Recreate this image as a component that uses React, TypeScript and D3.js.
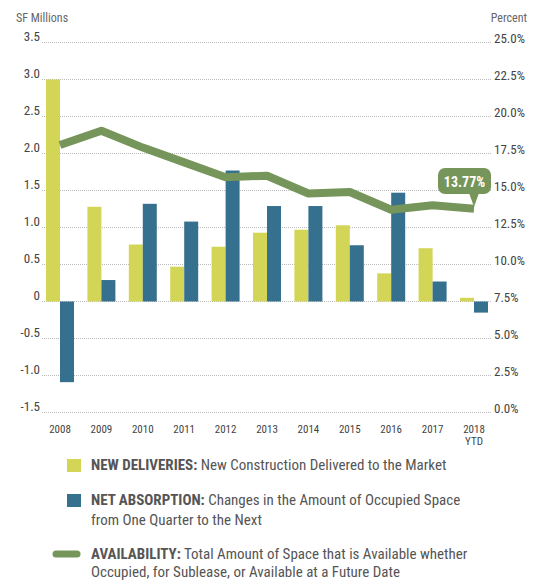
import * as d3 from "d3";
import React from "react";

const years = ["2008", "2009", "2010", "2011", "2012", "2013", "2014", "2015", "2016", "2017", "2018"];
const newDeliveries = [3.0, 1.28, 0.77, 0.47, 0.74, 0.93, 0.97, 1.03, 0.38, 0.72, 0.05];
const netAbsorption = [-1.09, 0.29, 1.32, 1.08, 1.77, 1.29, 1.29, 0.76, 1.47, 0.27, -0.15];
const availability = [18.07, 19.04, 17.9, 16.9, 15.9, 16.0, 14.8, 14.9, 13.7, 14.0, 13.77];
const leftTicks = [3.5, 3.0, 2.5, 2.0, 1.5, 1.0, 0.5, 0, -0.5, -1.0, -1.5];
const rightTicks = [25, 22.5, 20, 17.5, 15, 12.5, 10, 7.5, 5, 2.5, 0];

const W = 539;
const H = 580;
const FONT = "'Liberation Sans Narrow', 'Roboto Condensed', 'Liberation Sans', Arial, sans-serif";
const YELLOW = "#d2d555";
const BLUE = "#35708e";
const GREEN = "#76955a";

export default function App() {
  // plot area
  const top = 42.5;
  const bottom = 412.5;
  const gridLeft = 42;
  const gridRight = 491;

  const y = d3.scaleLinear().domain([-1.5, 3.5]).range([bottom, top]);
  const yr = d3.scaleLinear().domain([0, 25]).range([bottom, top]);
  const x = d3.scaleBand().domain(years).range([39.3, 494.7]).paddingInner(0.324).paddingOuter(0.162);
  const half = x.bandwidth() / 2;

  const line = d3
    .line<number>()
    .x((_, i) => x(years[i])! + half)
    .y((d) => yr(d));

  const lastX = x(years[years.length - 1])! + half;
  const lastY = yr(availability[availability.length - 1]);

  return (
    <div style={{ position: "absolute", left: 0, top: 0 }}>
      <svg width={W} height={H} style={{ display: "block", fontFamily: FONT }}>
        <text x={16} y={22} fontSize={12} fill="#666">SF Millions</text>
        <text x={527} y={22} fontSize={12} fill="#666" textAnchor="end">Percent</text>

        {leftTicks.map((t) => (
          <g key={"l" + t}>
            <line x1={gridLeft} x2={gridRight} y1={y(t)} y2={y(t)} stroke="#bbb" strokeDasharray="1,1" />
            <text x={40} y={y(t)} dy="-0.1em" fontSize={13} fill="#444" textAnchor="end">
              {t === 0 ? "0" : t < 0 ? "-" + d3.format(".1f")(-t) : d3.format(".1f")(t)}
            </text>
          </g>
        ))}
        {rightTicks.map((t) => (
          <text key={"r" + t} x={494} y={yr(t)} dy="0.05em" fontSize={13} fill="#444">
            {d3.format(".1f")(t) + "%"}
          </text>
        ))}

        {years.map((yrs, i) => (
          <g key={yrs}>
            <rect
              x={x(yrs)!}
              width={half}
              y={y(Math.max(0, newDeliveries[i]))}
              height={Math.abs(y(newDeliveries[i]) - y(0))}
              fill={YELLOW}
            />
            <rect
              x={x(yrs)! + half}
              width={half}
              y={y(Math.max(0, netAbsorption[i]))}
              height={Math.abs(y(netAbsorption[i]) - y(0))}
              fill={BLUE}
            />
            <text x={x(yrs)! + half} y={433} fontSize={11} fill="#444" textAnchor="middle">{yrs}</text>
          </g>
        ))}
        <text x={lastX} y={445} fontSize={11} fill="#444" textAnchor="middle">YTD</text>

        <path d={line(availability)!} fill="none" stroke={GREEN} strokeWidth={8} strokeLinejoin="round" />

        <g>
          <rect x={438} y={168} width={53} height={26} rx={7} fill={GREEN} />
          <path d={`M${lastX - 5},193 L${lastX},${lastY - 2} L${lastX + 5},193 Z`} fill={GREEN} />
          <text x={464.5} y={186.5} fontSize={14} fontWeight="bold" fill="#fff" textAnchor="middle">13.77%</text>
        </g>

        <g fontSize={15} fill="#555">
          <rect x={67} y={459} width={14} height={13} fill={YELLOW} />
          <text x={91} y={470}>
            <tspan fontWeight="bold">NEW DELIVERIES:</tspan> New Construction Delivered to the Market
          </text>
          <rect x={67} y={494} width={14} height={13} fill={BLUE} />
          <text x={91} y={505}>
            <tspan fontWeight="bold">NET ABSORPTION:</tspan> Changes in the Amount of Occupied Space
          </text>
          <text x={91} y={525}>from One Quarter to the Next</text>
          <line x1={56} x2={77} y1={554} y2={554} stroke={GREEN} strokeWidth={7} strokeLinecap="round" />
          <text x={91} y={559}>
            <tspan fontWeight="bold">AVAILABILITY:</tspan> Total Amount of Space that is Available whether
          </text>
          <text x={91} y={577}>Occupied, for Sublease, or Available at a Future Date</text>
        </g>
      </svg>
    </div>
  );
}
